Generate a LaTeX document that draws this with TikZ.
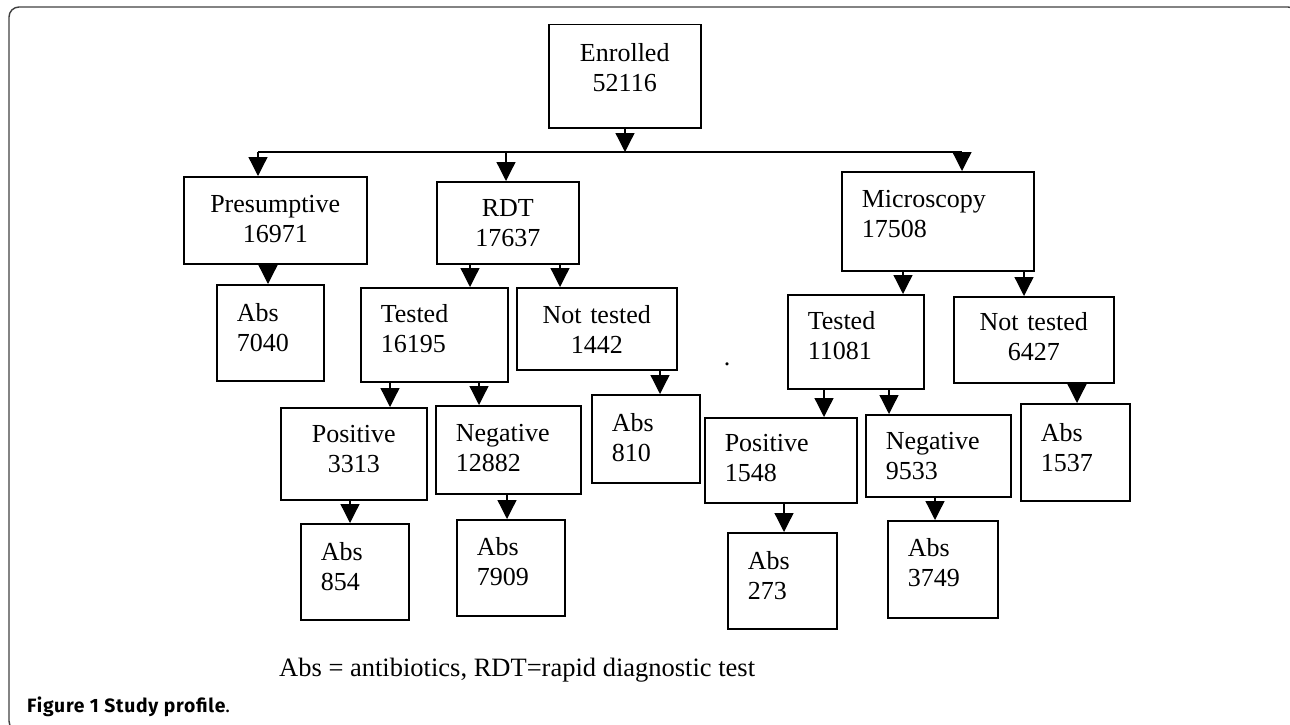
\documentclass[tikz,border=0pt]{standalone}
\usepackage{fontspec}
\setmainfont{Liberation Serif}
\newfontfamily\capfont[LetterSpace=4]{Fira Sans}
\usetikzlibrary{arrows.meta}

\begin{document}
\begin{tikzpicture}[x=1pt,y=-1pt,
   box/.style={draw,line width=1.5pt,anchor=north west,inner xsep=20pt,inner ysep=0pt,
               font=\fontsize{26}{30}\selectfont},
   mid/.style={align=center},
   lft/.style={align=left},
   sz/.style n args={3}{text width=#1,minimum height=#2,text depth=#3},
   arr/.style={line width=1.3pt,-{Triangle[width=19pt,length=19pt]}}]
   \useasboundingbox (0,0) rectangle (1290,725);
   \clip (0,0) rectangle (1290,725);
   \draw[black!75,line width=1.4pt,rounded corners=10pt] (9,7) rectangle (1298,731);

   \node[box,mid,sz={112pt}{103pt}{47pt}] (enr)   at (548,24)  {Enrolled\\52116};
   \node[box,mid,sz={143pt}{87pt}{33pt}]  (pres)  at (183,176) {Presumptive\\16971};
   \node[box,mid,sz={102pt}{82pt}{30pt}]  (rdt)   at (436,181) {RDT\\17637};
   \node[box,lft,sz={152pt}{99pt}{45pt}]  (mic)   at (841,171) {Microscopy\\17508};
   \node[box,lft,sz={67pt}{96pt}{40pt}]   (abs1)  at (216,284) {Abs\\7040};
   \node[box,lft,sz={107pt}{94pt}{42pt}]  (tst1)  at (360,287) {Tested\\16195};
   \node[box,mid,sz={120pt}{82pt}{28pt}]  (ntst1) at (516,287) {Not tested\\1442};
   \node[box,lft,sz={96pt}{94pt}{42pt}]   (tst2)  at (787,294) {Tested\\11081};
   \node[box,mid,sz={120pt}{86pt}{36pt}]  (ntst2) at (953,296) {Not tested\\6427};
   \node[box,mid,sz={106pt}{92pt}{40pt}]  (pos1)  at (280,407) {Positive\\3313};
   \node[box,lft,sz={105pt}{88pt}{34pt}]  (neg1)  at (435,405) {Negative\\12882};
   \node[box,lft,sz={68pt}{88pt}{32pt}]   (abs2)  at (591,394) {Abs\\810};
   \node[box,lft,sz={112pt}{85pt}{35pt}]  (pos2)  at (704,417) {Positive\\1548};
   \node[box,lft,sz={105pt}{82pt}{30pt}]  (neg2)  at (865,414) {Negative\\9533};
   \node[box,lft,sz={69pt}{97pt}{39pt}]   (abs3)  at (1020,403) {Abs\\1537};
   \node[box,lft,sz={68pt}{96pt}{40pt}]   (abs4)  at (300,523) {Abs\\854};
   \node[box,lft,sz={68pt}{96pt}{42pt}]   (abs5)  at (456,519) {Abs\\7909};
   \node[box,lft,sz={69pt}{96pt}{40pt}]   (abs6)  at (727,532) {Abs\\273};
   \node[box,lft,sz={70pt}{97pt}{43pt}]   (abs7)  at (887,520) {Abs\\3749};

   % split below the first box
   \coordinate (bus)  at (625,152);
   \coordinate (busl) at (258,152);
   \coordinate (busr) at (962,152);
   \draw[arr] (enr.south -| bus) -- (bus);
   \draw[line width=1.3pt] (busl) -- (busr);
   \foreach \c/\x in {pres/258,rdt/506,mic/962}
      \draw[arr] (bus -| \x,0) -- (\c.north -| \x,0);

   \foreach \p/\c/\x in {pres/abs1/268,rdt/tst1/470,rdt/ntst1/560,mic/tst2/903,
                         mic/ntst2/1024,tst1/pos1/390,tst1/neg1/479,ntst1/abs2/660,
                         tst2/pos2/824,tst2/neg2/889,ntst2/abs3/1077,pos1/abs4/350,
                         neg1/abs5/507,pos2/abs6/784,neg2/abs7/935}
      \draw[arr] (\p.south -| \x,0) -- (\c.north -| \x,0);

   \node[inner sep=0pt,font=\fontsize{26}{30}\selectfont] (dot) at (727,364) {.};
   \node[anchor=base west,inner sep=0pt,font=\fontsize{26.5}{30}\selectfont] (note) at (279,676)
      {Abs = antibiotics, RDT=rapid diagnostic test};
   \node[anchor=base west,inner sep=0pt,font=\capfont\fontsize{19.3}{22}\selectfont] (cap) at (27,712)
      {\textbf{Figure 1 Study profile}.};
\end{tikzpicture}
\end{document}
